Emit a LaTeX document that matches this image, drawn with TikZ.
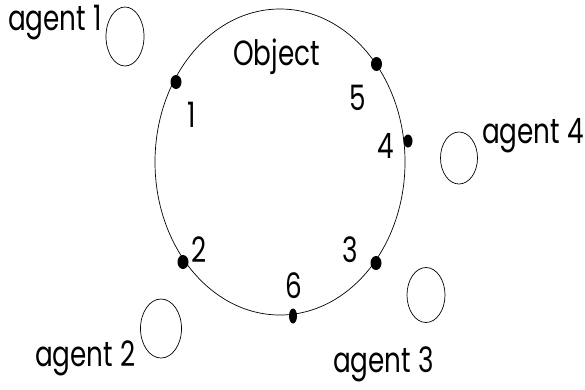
\documentclass[tikz,border=0pt]{standalone}
\usepackage{fontspec}
\usetikzlibrary{shapes.geometric}
\newfontfamily\lblfont{Poppins}[FakeStretch=0.75]
\tikzset{
  obj/.style={draw, ellipse, line width=0.7pt, inner sep=0pt, minimum width=250pt, minimum height=306pt},
  agentc/.style={draw, ellipse, line width=0.7pt, inner sep=0pt},
  pt/.style={fill, ellipse, inner sep=0pt, minimum width=11pt, minimum height=14pt},
  lbl/.style={anchor=base west, inner sep=0pt, font=\lblfont\fontsize{35}{40}\selectfont}
}
\begin{document}
\begin{tikzpicture}[x=1pt,y=-1pt]
\useasboundingbox (0,0) rectangle (585,389);
\node[obj] (object) at (280,162) {};
\node[lbl] (objlbl) at (233,65) {Object};
% dots
\node[pt] (d1) at (176,82) {};
\node[pt] (d5) at (376.5,64) {};
\node[pt, minimum width=9pt, minimum height=13pt] (d4) at (408,141) {};
\node[pt] (d3) at (376,263) {};
\node[pt] (d2) at (183,262) {};
\node[pt, minimum width=8pt, minimum height=15pt] (d6) at (293,316) {};
% numbers
\node[lbl] (n1) at (187,127) {1};
\node[lbl] (n5) at (349,110) {5};
\node[lbl] (n4) at (377,158) {4};
\node[lbl] (n2) at (191,262) {2};
\node[lbl] (n3) at (342,262) {3};
\node[lbl] (n6) at (285,298) {6};
% agents
\node[agentc, minimum width=38pt, minimum height=59pt] (a1) at (125,36.5) {};
\node[agentc, minimum width=37pt, minimum height=52pt] (a4) at (459,158) {};
\node[agentc, minimum width=41pt, minimum height=59pt] (a2) at (161,328.5) {};
\node[agentc, minimum width=38pt, minimum height=55pt] (a3) at (426,295) {};
\node[lbl] (l1) at (8,30) {agent 1};
\node[lbl] (l4) at (482,143) {agent 4};
\node[lbl] (l2) at (35,366) {agent 2};
\node[lbl] (l3) at (333,372) {agent 3};
\end{tikzpicture}
\end{document}
